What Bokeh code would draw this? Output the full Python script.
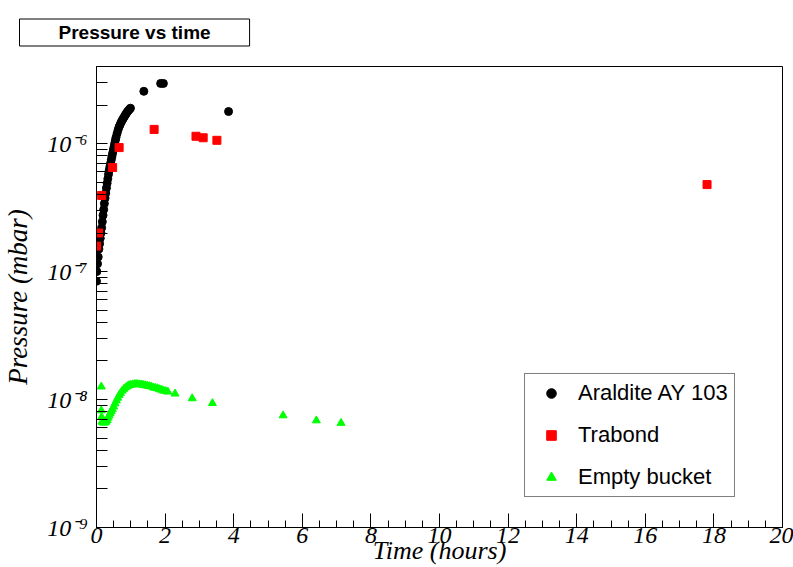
from bokeh.plotting import figure
from bokeh.models import (ColumnDataSource, FixedTicker, SingleIntervalTicker,
                          Legend, LegendItem)
from bokeh.embed import file_html
from bokeh.resources import INLINE

# ---------------- data ----------------
araldite_t = [0.00, 0.01, 0.03, 0.05, 0.07, 0.09, 0.11, 0.13, 0.15, 0.17, 0.19,
              0.21, 0.23, 0.25, 0.27, 0.29, 0.31, 0.33, 0.35, 0.37, 0.39, 0.41,
              0.43, 0.45, 0.47, 0.49, 0.51, 0.53, 0.55, 0.57, 0.60, 0.63, 0.66,
              0.69, 0.72, 0.75, 0.78, 0.81, 0.84, 0.87, 0.90, 0.93, 0.96, 0.99,
              1.38, 1.87, 1.95, 3.85]
araldite_p = [8.4e-8, 1.0e-7, 1.15e-7, 1.3e-7, 1.5e-7, 1.65e-7, 1.82e-7, 2.0e-7,
              2.2e-7, 2.45e-7, 2.75e-7, 3.05e-7, 3.4e-7, 3.75e-7, 4.1e-7, 4.5e-7,
              4.9e-7, 5.3e-7, 5.75e-7, 6.2e-7, 6.6e-7, 7.0e-7, 7.45e-7, 7.9e-7,
              8.4e-7, 8.9e-7, 9.4e-7, 1.0e-6, 1.06e-6, 1.12e-6, 1.2e-6, 1.28e-6,
              1.35e-6, 1.41e-6, 1.47e-6, 1.52e-6, 1.57e-6, 1.62e-6, 1.67e-6,
              1.72e-6, 1.77e-6, 1.81e-6, 1.85e-6, 1.89e-6,
              2.56e-6, 2.95e-6, 2.95e-6, 1.78e-6]

trabond_t = [0.00, 0.06, 0.15, 0.47, 0.66, 1.68, 2.90, 3.11, 3.51, 17.8]
trabond_p = [1.58e-7, 2.0e-7, 3.93e-7, 6.5e-7, 9.3e-7, 1.29e-6, 1.14e-6,
             1.11e-6, 1.06e-6, 4.78e-7]

bucket_t = [0.14, 0.14, 0.15, 0.16, 0.19, 0.22, 0.25, 0.28, 0.31, 0.34, 0.37,
            0.40, 0.43, 0.46, 0.50, 0.54, 0.58, 0.62, 0.66, 0.70, 0.75, 0.80,
            0.85, 0.90, 0.95, 1.00, 1.06, 1.12, 1.18, 1.24, 1.30, 1.36, 1.42,
            1.48, 1.54, 1.60, 1.66, 1.72, 1.78, 1.84, 1.90, 1.96, 2.02, 2.08,
            2.29, 2.79, 3.38, 5.44, 6.41, 7.13]
bucket_p = [1.26e-8, 8.2e-9, 7.3e-9, 6.7e-9, 6.6e-9, 6.6e-9, 6.6e-9, 6.7e-9,
            6.9e-9, 7.2e-9, 7.5e-9, 7.8e-9, 8.1e-9, 8.4e-9, 8.8e-9, 9.3e-9,
            9.8e-9, 1.03e-8, 1.08e-8, 1.12e-8, 1.17e-8, 1.21e-8, 1.24e-8,
            1.27e-8, 1.29e-8, 1.30e-8, 1.31e-8, 1.32e-8, 1.32e-8, 1.31e-8,
            1.31e-8, 1.30e-8, 1.29e-8, 1.28e-8, 1.27e-8, 1.26e-8, 1.24e-8,
            1.23e-8, 1.22e-8, 1.20e-8, 1.19e-8, 1.17e-8, 1.16e-8, 1.15e-8,
            1.11e-8, 1.02e-8, 9.35e-9, 7.5e-9, 6.85e-9, 6.55e-9]

series_names = ["Araldite AY 103", "Trabond", "Empty bucket"]
y_exponents = [-9, -8, -7, -6]
y_tick_labels = ["10\u207b\u2079", "10\u207b\u2078", "10\u207b\u2077", "10\u207b\u2076"]
x_start, x_end = 0, 20
y_start, y_end = 1e-9, 4e-6
title_text = "Pressure vs time"
x_title = "Time (hours)"
y_title = "Pressure (mbar)"

SERIF = "Liberation Serif"
SANS = "Liberation Sans"

p = figure(width=793, height=567, x_range=(x_start, x_end),
           y_range=(y_start, y_end), y_axis_type="log",
           output_backend="svg", toolbar_location=None,
           min_border_left=96, min_border_right=11,
           min_border_top=66, min_border_bottom=40)
p.background_fill_color = "white"
p.border_fill_color = "white"
p.outline_line_color = "black"
p.outline_line_width = 1
p.xgrid.visible = False
p.ygrid.visible = False

# title box
p.title.text = title_text
p.title.align = "left"
p.title.vertical_align = "top"
p.title.offset = -77
p.title.standoff = 37
p.title.text_font = SANS
p.title.text_font_style = "bold"
p.title.text_font_size = "19px"
p.title.text_color = "black"
p.title.border_line_color = "black"
p.title.border_line_width = 1
p.title.background_fill_color = "white"
p.title.padding = (39, 3)

# x axis
xa = p.xaxis[0]
xa.ticker = SingleIntervalTicker(interval=2, num_minor_ticks=4)
xa.major_tick_in = 14
xa.major_tick_out = 0
xa.minor_tick_in = 7
xa.minor_tick_out = 0
xa.axis_line_color = "black"
xa.major_tick_line_color = "black"
xa.minor_tick_line_color = "black"
xa.major_label_text_font = SERIF
xa.major_label_text_font_style = "italic"
xa.major_label_text_font_size = "24px"
xa.major_label_text_color = "black"
xa.major_label_standoff = 0
xa.axis_label = x_title
xa.axis_label_text_font = SERIF
xa.axis_label_text_font_style = "italic"
xa.axis_label_text_font_size = "26px"
xa.axis_label_text_color = "black"
xa.axis_label_standoff = -10

# y axis
ya = p.yaxis[0]
major = [10.0 ** e for e in y_exponents]
minor = [k * 10.0 ** e for e in y_exponents for k in range(2, 10) if k * 10.0 ** e <= y_end]
ya.ticker = FixedTicker(ticks=major, minor_ticks=minor)
ya.major_label_overrides = {v: lab for v, lab in zip(major, y_tick_labels)}
ya.major_tick_in = 11
ya.major_tick_out = 0
ya.minor_tick_in = 11
ya.minor_tick_out = 0
ya.axis_line_color = "black"
ya.major_tick_line_color = "black"
ya.minor_tick_line_color = "black"
ya.major_label_text_font = SERIF
ya.major_label_text_font_style = "italic"
ya.major_label_text_font_size = "24px"
ya.major_label_text_color = "black"
ya.major_label_standoff = 9
ya.axis_label = y_title
ya.axis_label_text_font = SERIF
ya.axis_label_text_font_style = "italic"
ya.axis_label_text_font_size = "27px"
ya.axis_label_text_color = "black"
ya.axis_label_standoff = 11

# data
src_a = ColumnDataSource(dict(t=araldite_t, p=araldite_p))
src_t = ColumnDataSource(dict(t=trabond_t, p=trabond_p))
src_b = ColumnDataSource(dict(t=bucket_t, p=bucket_p))

r_a = p.scatter("t", "p", source=src_a, marker="circle", size=8,
                fill_color="black", line_color="black")
r_t = p.scatter("t", "p", source=src_t, marker="square", size=8,
                fill_color="#ff0000", line_color="#ff0000")
r_b = p.scatter("t", "p", source=src_b, marker="triangle", size=8,
                fill_color="#00ff00", line_color="#00ff00")

legend = Legend(items=[LegendItem(label=series_names[0], renderers=[r_a]),
                       LegendItem(label=series_names[1], renderers=[r_t]),
                       LegendItem(label=series_names[2], renderers=[r_b])],
                location=(428, 30), orientation="vertical",
                border_line_color="black", border_line_width=1,
                background_fill_color="white", background_fill_alpha=1.0,
                label_text_font=SANS, label_text_font_size="22px",
                label_text_color="black",
                glyph_width=40, glyph_height=24, label_height=24,
                spacing=16, padding=6, margin=0, label_standoff=7)
p.add_layout(legend)

open("out.html", "w").write(file_html(p, INLINE))
